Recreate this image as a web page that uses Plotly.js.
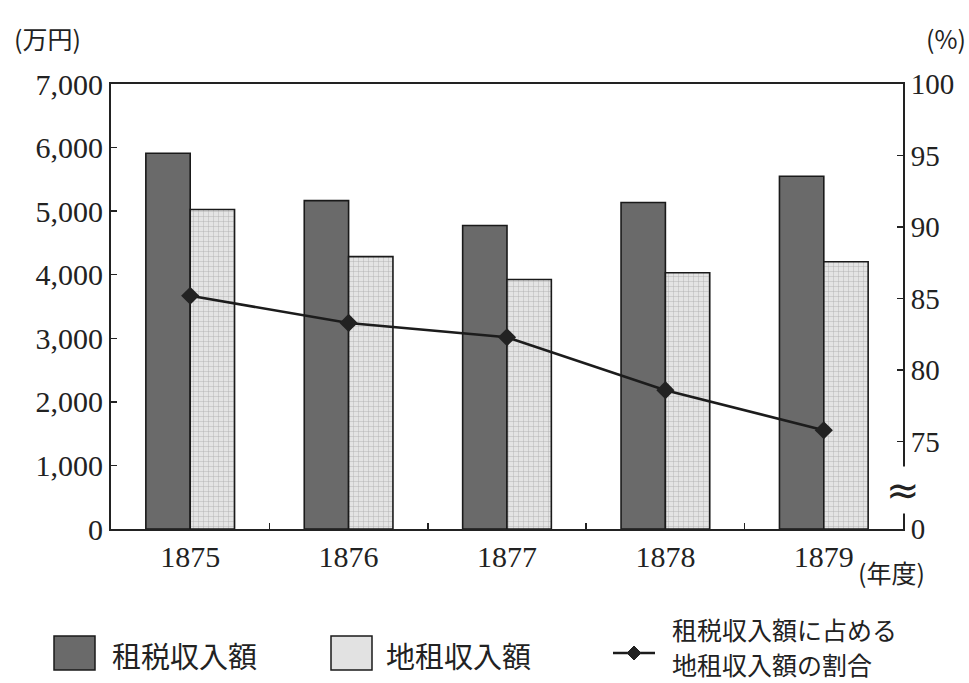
<!DOCTYPE html>
<html>
<head>
<meta charset="utf-8">
<script src="https://cdn.plot.ly/plotly-3.0.1.min.js"></script>
<style>html,body{margin:0;padding:0;background:#fff;}#chart{width:969px;height:683px;}</style>
</head>
<body>
<div id="chart"></div>
<script>
// ---- data ----
const years = ['1875', '1876', '1877', '1878', '1879'];
const taxRevenue = [5910, 5165, 4775, 5135, 5550];      // 租税収入額 (万円)
const landTaxRevenue = [5025, 4285, 3925, 4030, 4205];  // 地租収入額 (万円)
const landTaxShare = [85.2, 83.3, 82.3, 78.6, 75.8];    // 割合 (%)
const leftTickVals = [0, 1000, 2000, 3000, 4000, 5000, 6000, 7000];
const leftTickText = ['0', '1,000', '2,000', '3,000', '4,000', '5,000', '6,000', '7,000'];
const rightBreakBase = 68.9;
const rightTickVals = [rightBreakBase, 75, 80, 85, 90, 95, 100];
const rightTickText = ['0', '75', '80', '85', '90', '95', '100'];
const legendLabels = ['租税収入額', '地租収入額', '租税収入額に占める', '地租収入額の割合'];

// ---- layout helpers ----
const W = 969, H = 683;
const M = {l: 111, r: 66, t: 84, b: 154};
const PW = W - M.l - M.r, PH = H - M.t - M.b;
const px = x => (x - M.l) / PW;
const py = y => (H - M.b - y) / PH;

const serif = 'Liberation Serif, DejaVu Serif, serif';
const cjk = '"Noto Sans CJK JP", "Noto Sans CJK SC", sans-serif';

const traces = [
  {
    type: 'bar', x: years, y: taxRevenue, name: legendLabels[0],
    marker: {color: '#6a6a6a', line: {color: '#1a1a1a', width: 1.6}},
    yaxis: 'y', hoverinfo: 'skip'
  },
  {
    type: 'bar', x: years, y: landTaxRevenue, name: legendLabels[1],
    marker: {color: '#e2e2e2', line: {color: '#1a1a1a', width: 1.6},
      pattern: {shape: '+', size: 5, solidity: 0.15, fgcolor: '#a8a8a8', bgcolor: '#e4e4e4'}},
    yaxis: 'y', hoverinfo: 'skip'
  },
  {
    type: 'scatter', mode: 'lines+markers', x: years, y: landTaxShare, name: legendLabels[2],
    line: {color: '#1c1c1c', width: 2.6},
    marker: {symbol: 'diamond', size: 14, color: '#222'},
    yaxis: 'y2', hoverinfo: 'skip'
  }
];

const shapes = [
  // legend swatches
  {type: 'rect', xref: 'paper', yref: 'paper', x0: px(54), x1: px(95), y0: py(636), y1: py(670),
   fillcolor: '#6a6a6a', line: {color: '#1a1a1a', width: 1.5}},
  {type: 'rect', xref: 'paper', yref: 'paper', x0: px(331), x1: px(372), y0: py(636), y1: py(670),
   fillcolor: '#e2e2e2', line: {color: '#1a1a1a', width: 1.5}},
  {type: 'line', xref: 'paper', yref: 'paper', x0: px(613), x1: px(655), y0: py(653), y1: py(653),
   line: {color: '#1c1c1c', width: 2.6}},
  {type: 'path', xref: 'paper', yref: 'paper',
   path: `M ${px(634)} ${py(646)} L ${px(641)} ${py(653)} L ${px(634)} ${py(660)} L ${px(627)} ${py(653)} Z`,
   fillcolor: '#222', line: {color: '#222', width: 1}}
];

const annotations = [
  {xref: 'paper', yref: 'paper', x: px(12), y: py(38), xanchor: 'left', yanchor: 'middle',
   text: '(万円)', showarrow: false, font: {family: cjk, size: 25, color: '#222'}},
  {xref: 'paper', yref: 'paper', x: px(968), y: py(38), xanchor: 'right', yanchor: 'middle',
   text: '(%)', showarrow: false, font: {family: cjk, size: 25, color: '#222'}},
  {xref: 'paper', yref: 'paper', x: px(856), y: py(572), xanchor: 'left', yanchor: 'middle',
   text: '(年度)', showarrow: false, font: {family: cjk, size: 25, color: '#222'}},
  {xref: 'paper', yref: 'paper', x: 1, y: py(490), xanchor: 'center', yanchor: 'middle',
   text: '≈', showarrow: false, bgcolor: 'rgba(255,255,255,1)', borderpad: 0,
   font: {family: 'DejaVu Sans, sans-serif', size: 40, color: '#222'}},
  {xref: 'paper', yref: 'paper', x: px(110), y: py(655), xanchor: 'left', yanchor: 'middle',
   text: legendLabels[0], showarrow: false, font: {family: cjk, size: 29, color: '#222'}},
  {xref: 'paper', yref: 'paper', x: px(384), y: py(655), xanchor: 'left', yanchor: 'middle',
   text: legendLabels[1], showarrow: false, font: {family: cjk, size: 29, color: '#222'}},
  {xref: 'paper', yref: 'paper', x: px(670), y: py(629), xanchor: 'left', yanchor: 'middle',
   text: legendLabels[2], showarrow: false, font: {family: cjk, size: 25, color: '#222'}},
  {xref: 'paper', yref: 'paper', x: px(670), y: py(664), xanchor: 'left', yanchor: 'middle',
   text: legendLabels[3], showarrow: false, font: {family: cjk, size: 25, color: '#222'}}
];

const layout = {
  width: W, height: H,
  margin: {l: M.l, r: M.r, t: M.t, b: M.b, pad: 0},
  paper_bgcolor: '#fff', plot_bgcolor: '#fff',
  showlegend: false,
  barmode: 'group', bargap: 0.44, bargroupgap: 0,
  xaxis: {
    type: 'category', range: [-0.5, 4.5],
    showline: true, linecolor: '#222', linewidth: 2, mirror: true,
    ticks: 'inside', ticklen: 6, tickwidth: 1.5, tickcolor: '#222', tickson: 'boundaries',
    showgrid: false, zeroline: false,
    tickfont: {family: serif, size: 30, color: '#222'}
  },
  yaxis: {
    range: [0, 7000], tickmode: 'array', tickvals: leftTickVals, ticktext: leftTickText,
    showline: true, linecolor: '#222', linewidth: 2,
    ticks: 'inside', ticklen: 6, tickwidth: 1.5, tickcolor: '#222',
    showgrid: false, zeroline: false,
    tickfont: {family: serif, size: 30, color: '#222'}
  },
  yaxis2: {
    overlaying: 'y', side: 'right',
    range: [rightBreakBase, 100], tickmode: 'array', tickvals: rightTickVals, ticktext: rightTickText,
    showline: true, linecolor: '#222', linewidth: 2,
    ticks: 'inside', ticklen: 6, tickwidth: 1.5, tickcolor: '#222',
    showgrid: false, zeroline: false,
    tickfont: {family: serif, size: 29, color: '#222'}
  },
  shapes: shapes,
  annotations: annotations
};

Plotly.newPlot('chart', traces, layout, {staticPlot: true, displayModeBar: false});
</script>
</body>
</html>
